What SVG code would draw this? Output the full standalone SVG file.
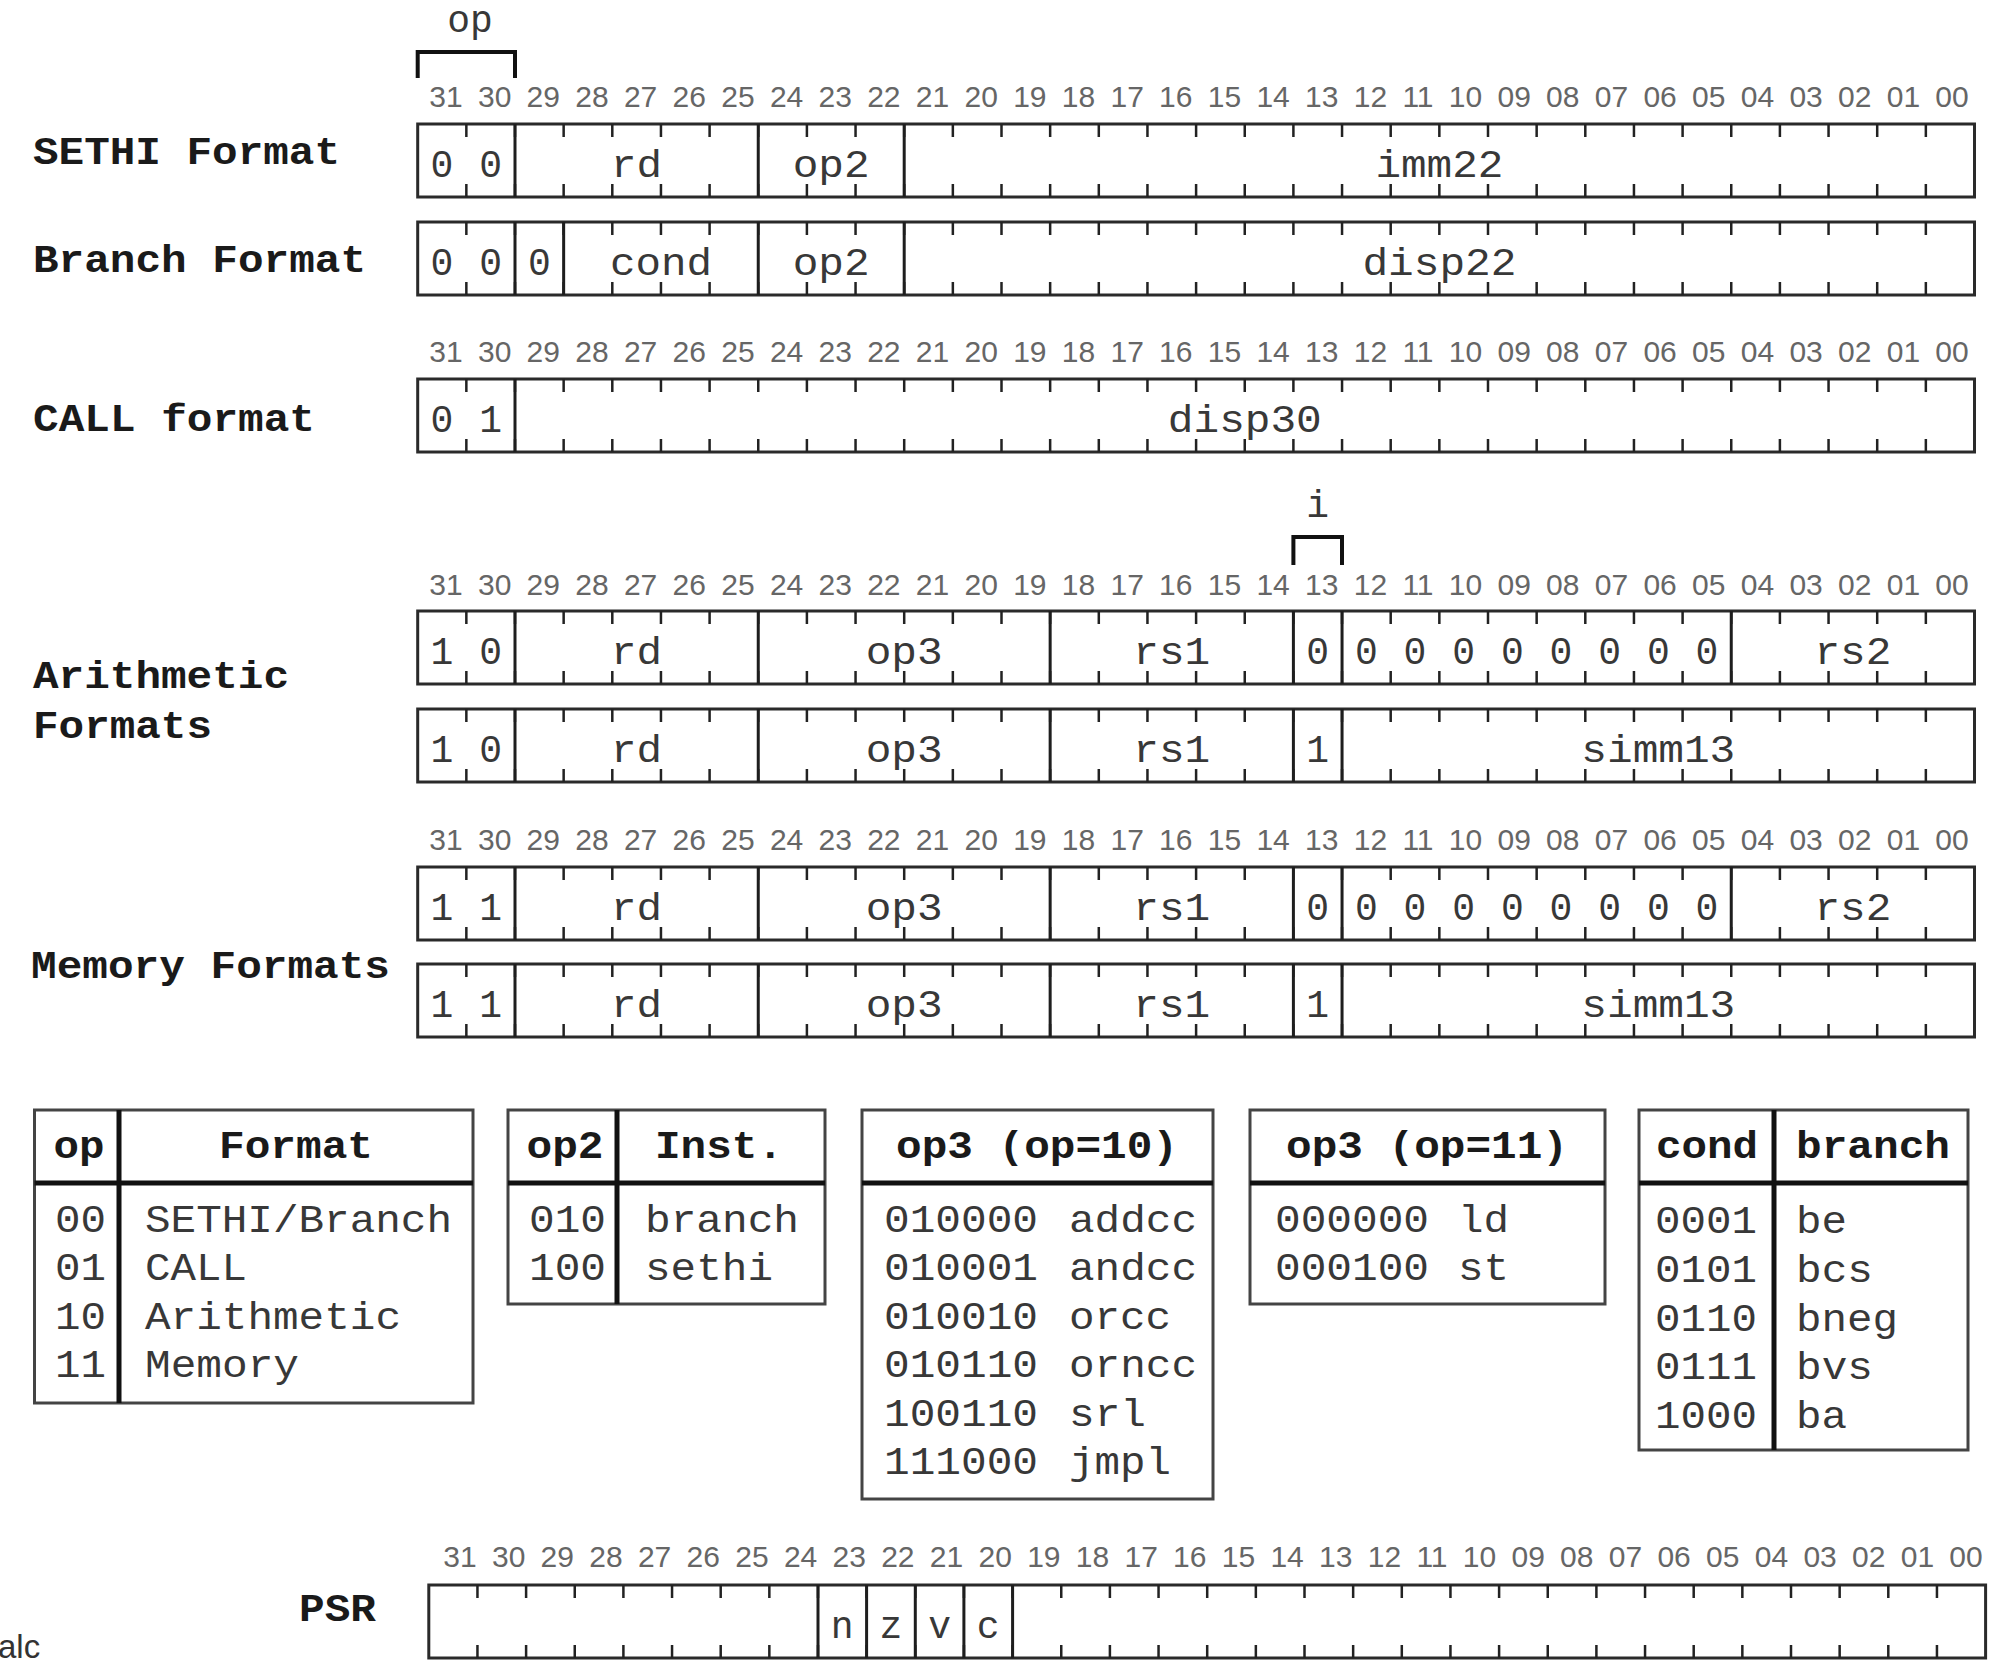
<svg xmlns="http://www.w3.org/2000/svg" xmlns:xlink="http://www.w3.org/1999/xlink" width="2000" height="1671" viewBox="0 0 2000 1671">
<style>
.box{fill:none;stroke:#2a2a2a;stroke-width:3}
.tk{fill:none;stroke:#222;stroke-width:13;stroke-dasharray:2.5 46.15}
.sep{fill:none;stroke:#1e1e1e;stroke-width:3}
.brk{fill:none;stroke:#111;stroke-width:4}
.bn{font-family:"Liberation Sans","DejaVu Sans",sans-serif;font-size:30px;fill:#666;word-spacing:6.95px}
.f{font-family:"Liberation Mono","DejaVu Sans Mono",monospace;font-size:38px;fill:#383838;text-anchor:middle}
.fl{font-family:"Liberation Mono","DejaVu Sans Mono",monospace;font-size:38px;fill:#383838}
.lb{font-family:"Liberation Mono","DejaVu Sans Mono",monospace;font-size:38px;font-weight:bold;fill:#1a1a1a}
.hd{font-family:"Liberation Mono","DejaVu Sans Mono",monospace;font-size:38px;font-weight:bold;fill:#1a1a1a;text-anchor:middle}
.tb{fill:none;stroke:#444;stroke-width:3}
.hl{fill:none;stroke:#111;stroke-width:5}
</style>
<defs>
<g id="frame">
<rect class="box" x="417.7" y="0" width="1556.8" height="73"/>
<line class="tk" x1="465.1" y1="6.5" x2="1927.1" y2="6.5"/>
<line class="tk" x1="465.1" y1="66.5" x2="1927.1" y2="66.5"/>
</g>
</defs>
<rect x="0" y="0" width="2000" height="1671" fill="#fff"/>

<g id="op-bracket">
<text class="f" x="470" y="32">op</text>
<path class="brk" d="M417.7,78V52H515V78"/>
</g>
<g id="i-bracket">
<text class="f" x="1317.7" y="517">i</text>
<path class="brk" d="M1293.4,565V537H1342V565"/>
</g>

<g id="bit-numbers">
<text class="bn" x="429.3" y="106.5">31 30 29 28 27 26 25 24 23 22 21 20 19 18 17 16 15 14 13 12 11 10 09 08 07 06 05 04 03 02 01 00</text>
<text class="bn" x="429.3" y="361.5">31 30 29 28 27 26 25 24 23 22 21 20 19 18 17 16 15 14 13 12 11 10 09 08 07 06 05 04 03 02 01 00</text>
<text class="bn" x="429.3" y="595">31 30 29 28 27 26 25 24 23 22 21 20 19 18 17 16 15 14 13 12 11 10 09 08 07 06 05 04 03 02 01 00</text>
<text class="bn" x="429.3" y="850">31 30 29 28 27 26 25 24 23 22 21 20 19 18 17 16 15 14 13 12 11 10 09 08 07 06 05 04 03 02 01 00</text>
<text class="bn" x="443.3" y="1567">31 30 29 28 27 26 25 24 23 22 21 20 19 18 17 16 15 14 13 12 11 10 09 08 07 06 05 04 03 02 01 00</text>
</g>

<g id="row-labels">
<text class="lb" x="33" y="164" textLength="307" lengthAdjust="spacingAndGlyphs">SETHI Format</text>
<text class="lb" x="33" y="272" textLength="333" lengthAdjust="spacingAndGlyphs">Branch Format</text>
<text class="lb" x="33" y="431" textLength="282" lengthAdjust="spacingAndGlyphs">CALL format</text>
<text class="lb" x="33" y="688" textLength="256" lengthAdjust="spacingAndGlyphs">Arithmetic</text>
<text class="lb" x="33" y="738" textLength="179" lengthAdjust="spacingAndGlyphs">Formats</text>
<text class="lb" x="31" y="978" textLength="359" lengthAdjust="spacingAndGlyphs">Memory Formats</text>
<text class="lb" x="299" y="1621" textLength="77" lengthAdjust="spacingAndGlyphs">PSR</text>
</g>

<g id="row-sethi">
<use xlink:href="#frame" href="#frame" y="124"/>
<path class="sep" d="M515,124v73M758.25,124v73M904.2,124v73"/>
<text class="f" x="442" y="177">0</text>
<text class="f" x="490.7" y="177">0</text>
<text class="f" x="636.6" y="177" textLength="51" lengthAdjust="spacingAndGlyphs">rd</text>
<text class="f" x="831.2" y="177" textLength="77" lengthAdjust="spacingAndGlyphs">op2</text>
<text class="f" x="1439.4" y="177" textLength="128" lengthAdjust="spacingAndGlyphs">imm22</text>
</g>

<g id="row-branch">
<use xlink:href="#frame" href="#frame" y="222"/>
<path class="sep" d="M515,222v73M563.65,222v73M758.25,222v73M904.2,222v73"/>
<text class="f" x="442" y="275">0</text>
<text class="f" x="490.7" y="275">0</text>
<text class="f" x="539.3" y="275">0</text>
<text class="f" x="661" y="275" textLength="102" lengthAdjust="spacingAndGlyphs">cond</text>
<text class="f" x="831.2" y="275" textLength="77" lengthAdjust="spacingAndGlyphs">op2</text>
<text class="f" x="1439.4" y="275" textLength="154" lengthAdjust="spacingAndGlyphs">disp22</text>
</g>

<g id="row-call">
<use xlink:href="#frame" href="#frame" y="379"/>
<path class="sep" d="M515,379v73"/>
<text class="f" x="442" y="432">0</text>
<text class="f" x="490.7" y="432">1</text>
<text class="f" x="1244.8" y="432" textLength="154" lengthAdjust="spacingAndGlyphs">disp30</text>
</g>

<g id="row-arith-reg">
<use xlink:href="#frame" href="#frame" y="611"/>
<path class="sep" d="M515,611v73M758.25,611v73M1050.15,611v73M1293.4,611v73M1342.05,611v73M1731.25,611v73"/>
<text class="f" x="442" y="664">1</text>
<text class="f" x="490.7" y="664">0</text>
<text class="f" x="636.6" y="664" textLength="51" lengthAdjust="spacingAndGlyphs">rd</text>
<text class="f" x="904.2" y="664" textLength="77" lengthAdjust="spacingAndGlyphs">op3</text>
<text class="f" x="1171.8" y="664" textLength="77" lengthAdjust="spacingAndGlyphs">rs1</text>
<text class="f" x="1317.7" y="664">0</text>
<text class="f" x="1366.4" y="664">0</text>
<text class="f" x="1415" y="664">0</text>
<text class="f" x="1463.7" y="664">0</text>
<text class="f" x="1512.3" y="664">0</text>
<text class="f" x="1561" y="664">0</text>
<text class="f" x="1609.6" y="664">0</text>
<text class="f" x="1658.3" y="664">0</text>
<text class="f" x="1706.9" y="664">0</text>
<text class="f" x="1852.9" y="664" textLength="77" lengthAdjust="spacingAndGlyphs">rs2</text>
</g>

<g id="row-arith-imm">
<use xlink:href="#frame" href="#frame" y="709"/>
<path class="sep" d="M515,709v73M758.25,709v73M1050.15,709v73M1293.4,709v73M1342.05,709v73"/>
<text class="f" x="442" y="762">1</text>
<text class="f" x="490.7" y="762">0</text>
<text class="f" x="636.6" y="762" textLength="51" lengthAdjust="spacingAndGlyphs">rd</text>
<text class="f" x="904.2" y="762" textLength="77" lengthAdjust="spacingAndGlyphs">op3</text>
<text class="f" x="1171.8" y="762" textLength="77" lengthAdjust="spacingAndGlyphs">rs1</text>
<text class="f" x="1317.7" y="762">1</text>
<text class="f" x="1658.3" y="762" textLength="154" lengthAdjust="spacingAndGlyphs">simm13</text>
</g>

<g id="row-mem-reg">
<use xlink:href="#frame" href="#frame" y="867"/>
<path class="sep" d="M515,867v73M758.25,867v73M1050.15,867v73M1293.4,867v73M1342.05,867v73M1731.25,867v73"/>
<text class="f" x="442" y="920">1</text>
<text class="f" x="490.7" y="920">1</text>
<text class="f" x="636.6" y="920" textLength="51" lengthAdjust="spacingAndGlyphs">rd</text>
<text class="f" x="904.2" y="920" textLength="77" lengthAdjust="spacingAndGlyphs">op3</text>
<text class="f" x="1171.8" y="920" textLength="77" lengthAdjust="spacingAndGlyphs">rs1</text>
<text class="f" x="1317.7" y="920">0</text>
<text class="f" x="1366.4" y="920">0</text>
<text class="f" x="1415" y="920">0</text>
<text class="f" x="1463.7" y="920">0</text>
<text class="f" x="1512.3" y="920">0</text>
<text class="f" x="1561" y="920">0</text>
<text class="f" x="1609.6" y="920">0</text>
<text class="f" x="1658.3" y="920">0</text>
<text class="f" x="1706.9" y="920">0</text>
<text class="f" x="1852.9" y="920" textLength="77" lengthAdjust="spacingAndGlyphs">rs2</text>
</g>

<g id="row-mem-imm">
<use xlink:href="#frame" href="#frame" y="964"/>
<path class="sep" d="M515,964v73M758.25,964v73M1050.15,964v73M1293.4,964v73M1342.05,964v73"/>
<text class="f" x="442" y="1017">1</text>
<text class="f" x="490.7" y="1017">1</text>
<text class="f" x="636.6" y="1017" textLength="51" lengthAdjust="spacingAndGlyphs">rd</text>
<text class="f" x="904.2" y="1017" textLength="77" lengthAdjust="spacingAndGlyphs">op3</text>
<text class="f" x="1171.8" y="1017" textLength="77" lengthAdjust="spacingAndGlyphs">rs1</text>
<text class="f" x="1317.7" y="1017">1</text>
<text class="f" x="1658.3" y="1017" textLength="154" lengthAdjust="spacingAndGlyphs">simm13</text>
</g>

<g id="table-op">
<rect class="tb" x="34.5" y="1110" width="438.5" height="293"/>
<path class="hl" d="M34.5,1183H473M119,1110V1403"/>
<text class="hd" x="79" y="1158" textLength="51" lengthAdjust="spacingAndGlyphs">op</text>
<text class="hd" x="296" y="1158" textLength="154" lengthAdjust="spacingAndGlyphs">Format</text>
<text class="fl" x="55" y="1232" textLength="51" lengthAdjust="spacingAndGlyphs">00</text>
<text class="fl" x="55" y="1280" textLength="51" lengthAdjust="spacingAndGlyphs">01</text>
<text class="fl" x="55" y="1329" textLength="51" lengthAdjust="spacingAndGlyphs">10</text>
<text class="fl" x="55" y="1377" textLength="51" lengthAdjust="spacingAndGlyphs">11</text>
<text class="fl" x="145" y="1232" textLength="307" lengthAdjust="spacingAndGlyphs">SETHI/Branch</text>
<text class="fl" x="145" y="1280" textLength="102" lengthAdjust="spacingAndGlyphs">CALL</text>
<text class="fl" x="145" y="1329" textLength="256" lengthAdjust="spacingAndGlyphs">Arithmetic</text>
<text class="fl" x="145" y="1377" textLength="154" lengthAdjust="spacingAndGlyphs">Memory</text>
</g>

<g id="table-op2">
<rect class="tb" x="508" y="1110" width="317" height="194"/>
<path class="hl" d="M508,1183H825M617,1110V1304"/>
<text class="hd" x="565" y="1158" textLength="77" lengthAdjust="spacingAndGlyphs">op2</text>
<text class="hd" x="719" y="1158" textLength="128" lengthAdjust="spacingAndGlyphs">Inst.</text>
<text class="fl" x="529" y="1232" textLength="77" lengthAdjust="spacingAndGlyphs">010</text>
<text class="fl" x="529" y="1280" textLength="77" lengthAdjust="spacingAndGlyphs">100</text>
<text class="fl" x="645" y="1232" textLength="154" lengthAdjust="spacingAndGlyphs">branch</text>
<text class="fl" x="645" y="1280" textLength="128" lengthAdjust="spacingAndGlyphs">sethi</text>
</g>

<g id="table-op3-arith">
<rect class="tb" x="862" y="1110" width="351" height="389"/>
<path class="hl" d="M862,1183H1213"/>
<text class="hd" x="1037" y="1158" textLength="282" lengthAdjust="spacingAndGlyphs">op3 (op=10)</text>
<text class="fl" x="884" y="1232" textLength="154" lengthAdjust="spacingAndGlyphs">010000</text>
<text class="fl" x="884" y="1280" textLength="154" lengthAdjust="spacingAndGlyphs">010001</text>
<text class="fl" x="884" y="1329" textLength="154" lengthAdjust="spacingAndGlyphs">010010</text>
<text class="fl" x="884" y="1377" textLength="154" lengthAdjust="spacingAndGlyphs">010110</text>
<text class="fl" x="884" y="1426" textLength="154" lengthAdjust="spacingAndGlyphs">100110</text>
<text class="fl" x="884" y="1474" textLength="154" lengthAdjust="spacingAndGlyphs">111000</text>
<text class="fl" x="1069" y="1232" textLength="128" lengthAdjust="spacingAndGlyphs">addcc</text>
<text class="fl" x="1069" y="1280" textLength="128" lengthAdjust="spacingAndGlyphs">andcc</text>
<text class="fl" x="1069" y="1329" textLength="102" lengthAdjust="spacingAndGlyphs">orcc</text>
<text class="fl" x="1069" y="1377" textLength="128" lengthAdjust="spacingAndGlyphs">orncc</text>
<text class="fl" x="1069" y="1426" textLength="77" lengthAdjust="spacingAndGlyphs">srl</text>
<text class="fl" x="1069" y="1474" textLength="102" lengthAdjust="spacingAndGlyphs">jmpl</text>
</g>

<g id="table-op3-mem">
<rect class="tb" x="1250" y="1110" width="355" height="194"/>
<path class="hl" d="M1250,1183H1605"/>
<text class="hd" x="1427" y="1158" textLength="282" lengthAdjust="spacingAndGlyphs">op3 (op=11)</text>
<text class="fl" x="1275" y="1232" textLength="154" lengthAdjust="spacingAndGlyphs">000000</text>
<text class="fl" x="1275" y="1280" textLength="154" lengthAdjust="spacingAndGlyphs">000100</text>
<text class="fl" x="1458" y="1232" textLength="51" lengthAdjust="spacingAndGlyphs">ld</text>
<text class="fl" x="1458" y="1280" textLength="51" lengthAdjust="spacingAndGlyphs">st</text>
</g>

<g id="table-cond">
<rect class="tb" x="1639" y="1110" width="329" height="340"/>
<path class="hl" d="M1639,1183H1968M1774,1110V1450"/>
<text class="hd" x="1707" y="1158" textLength="102" lengthAdjust="spacingAndGlyphs">cond</text>
<text class="hd" x="1873" y="1158" textLength="154" lengthAdjust="spacingAndGlyphs">branch</text>
<text class="fl" x="1655" y="1233" textLength="102" lengthAdjust="spacingAndGlyphs">0001</text>
<text class="fl" x="1655" y="1282" textLength="102" lengthAdjust="spacingAndGlyphs">0101</text>
<text class="fl" x="1655" y="1331" textLength="102" lengthAdjust="spacingAndGlyphs">0110</text>
<text class="fl" x="1655" y="1379" textLength="102" lengthAdjust="spacingAndGlyphs">0111</text>
<text class="fl" x="1655" y="1428" textLength="102" lengthAdjust="spacingAndGlyphs">1000</text>
<text class="fl" x="1796" y="1233" textLength="51" lengthAdjust="spacingAndGlyphs">be</text>
<text class="fl" x="1796" y="1282" textLength="77" lengthAdjust="spacingAndGlyphs">bcs</text>
<text class="fl" x="1796" y="1331" textLength="102" lengthAdjust="spacingAndGlyphs">bneg</text>
<text class="fl" x="1796" y="1379" textLength="77" lengthAdjust="spacingAndGlyphs">bvs</text>
<text class="fl" x="1796" y="1428" textLength="51" lengthAdjust="spacingAndGlyphs">ba</text>
</g>

<g id="row-psr">
<use xlink:href="#frame" href="#frame" x="11.1" y="1585"/>
<path class="sep" d="M818,1585v73M866.6,1585v73M915.3,1585v73M963.9,1585v73M1012.6,1585v73"/>
<text class="f" x="842.2" y="1638">n</text>
<text class="f" x="890.9" y="1638">z</text>
<text class="f" x="939.6" y="1638">v</text>
<text class="f" x="988.2" y="1638">c</text>
</g>

<text x="-2" y="1658" font-family="Liberation Sans, sans-serif" font-size="33" fill="#333">alc</text>
</svg>
